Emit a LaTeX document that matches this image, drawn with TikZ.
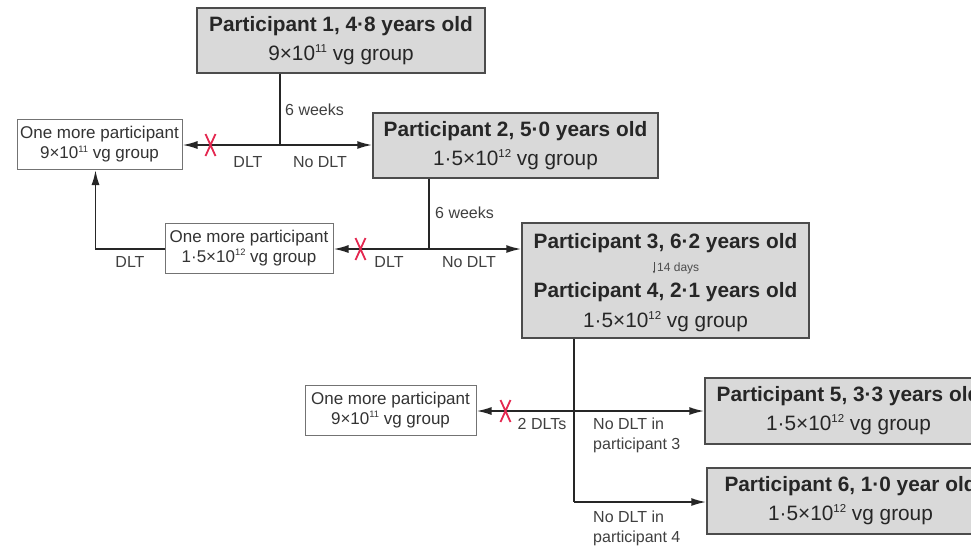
\documentclass[tikz,border=0pt]{standalone}
\usepackage{fontspec}
\setmainfont{Liberation Sans}
\usepackage{graphicx}
\usepackage{tikz}
\usetikzlibrary{arrows.meta,positioning,calc}

% small raised exponent as in the figure
\newcommand\expo[1]{\raisebox{0.75ex}{\scalebox{0.55}{#1}}}

\begin{document}
\begin{tikzpicture}[x=1pt,y=-1pt]
\colorlet{box edge}{black!70}
\colorlet{box area}{black!15}
\colorlet{line col}{black!85}
\definecolor{cross red}{RGB}{228,40,80}
\tikzset{
     boxtext/.style={text=black!85, font=\fontsize{20.8}{29}\selectfont},
     bigbox/.style={boxtext, draw=box edge, fill=box area, line width=1.5pt, inner sep=2pt,
        minimum width=287pt, minimum height=66pt, align=center},
     morebox/.style={draw=black!55, fill=white, line width=1pt, inner sep=2pt, minimum height=50pt,
        align=center, text=black!80, font=\fontsize{17}{20}\selectfont},
     lbl/.style={text=black!75, inner sep=1pt, align=left, font=\fontsize{16}{20}\selectfont},
     conn/.style={draw=line col, line width=1.8pt},
     arr/.style={conn, -{Latex[length=15pt,width=8pt]}}}

% red cross on a stopped branch
\def\stopcross#1{\draw[cross red, line width=1.8pt] ($#1+(-5,-11)$) -- ($#1+(5,11)$) ($#1+(-5,11)$) -- ($#1+(5,-11)$);}

\useasboundingbox (0,0) rectangle (971,546);
\clip (0,0) rectangle (971,546);
\fill[white] (0,0) rectangle (971,546);

% The boxes
\node (p1) [bigbox, minimum width=288pt, minimum height=65pt] at (341,40.5)
  {\textbf{Participant 1, 4·8 years old}\\9×10\expo{11} vg group};
\node (p2) [bigbox, minimum width=285pt, minimum height=65pt] at (515.5,145.5)
  {\textbf{Participant 2, 5·0 years old}\\1·5×10\expo{12} vg group};
\node (p34) [bigbox, minimum height=115pt] at (665.5,280.5) {};
\node (p5) [bigbox] at (848.5,411)
  {\textbf{Participant 5, 3·3 years old}\\1·5×10\expo{12} vg group};
\node (p6) [bigbox] at (850.5,501)
  {\textbf{Participant 6, 1·0 year old}\\1·5×10\expo{12} vg group};

\node (m1) [morebox, minimum width=165pt] at (99.5,144.5) {One more participant\\9×10\expo{11} vg group};
\node (m2) [morebox, minimum width=168pt] at (249,248) {One more participant\\1·5×10\expo{12} vg group};
\node (m3) [morebox, minimum width=171pt] at (390.5,410) {One more participant\\9×10\expo{11} vg group};

% The text of the double box
\node (p3txt) [boxtext, inner sep=0pt] at (665.5,243) {\textbf{Participant 3, 6·2 years old}};
\node (days) [inner sep=0pt, anchor=west, text=black!70, font=\fontsize{12}{14}\selectfont] at (657,268) {14 days};
\node (p4txt) [boxtext, inner sep=0pt] at (665.5,292) {\textbf{Participant 4, 2·1 years old}};
\node (dose34) [boxtext, inner sep=0pt] at (665.5,322) {1·5×10\expo{12} vg group};
\draw[black!70, line width=0.6pt, -{Latex[length=3pt,width=2.5pt]}] ([xshift=-3pt]days.north west) -- ([xshift=-3pt]days.south west);

% The junctions
\coordinate (j1) at (280,145);
\coordinate (j2) at (429,249);
\coordinate (j3) at (574,411);
\coordinate (j4) at (574,502);

% The connectors
\draw[conn] (p1.south -| j1) -- (j1);
\draw[arr] (j1) -- (m1.east |- j1);
\draw[arr] (j1) -- (p2.west |- j1);

\draw[conn] (p2.south -| j2) -- (j2);
\draw[arr] (j2) -- (m2.east |- j2);
\draw[arr] (j2) -- (p34.west |- j2);
\draw[arr] (m2.west |- j2) -| ([xshift=-4pt]m1.south);

\draw[conn] (p34.south -| j3) -- (j4);
\draw[arr] (j3) -- (m3.east |- j3);
\draw[arr] (j3) -- (p5.west |- j3);
\draw[arr] (j4) -- (p6.west |- j4);

\stopcross{(m1.east |- j1)+(28,0)}
\stopcross{(m2.east |- j2)+(27,0)}
\stopcross{(m3.east |- j3)+(29,0)}

% The labels
\node (wk1) [lbl, anchor=west] at ($(j1)+(4,-35)$) {6 weeks};
\node (dlt1) [lbl] at (248,162) {DLT};
\node (go1) [lbl] at (320,162) {No DLT};
\node (wk2) [lbl, anchor=west] at ($(j2)+(5,-36)$) {6 weeks};
\node (dlt2) [lbl] at (389,262) {DLT};
\node (go2) [lbl] at (469,262) {No DLT};
\node (dlt3) [lbl] at (130,262) {DLT};
\node (dlt4) [lbl] at (542,424) {2 DLTs};
\node (go3) [lbl, anchor=west] at (592,435) {No DLT in\\participant 3};
\node (go4) [lbl, anchor=west] at (592,528) {No DLT in\\participant 4};
\end{tikzpicture}
\end{document}
